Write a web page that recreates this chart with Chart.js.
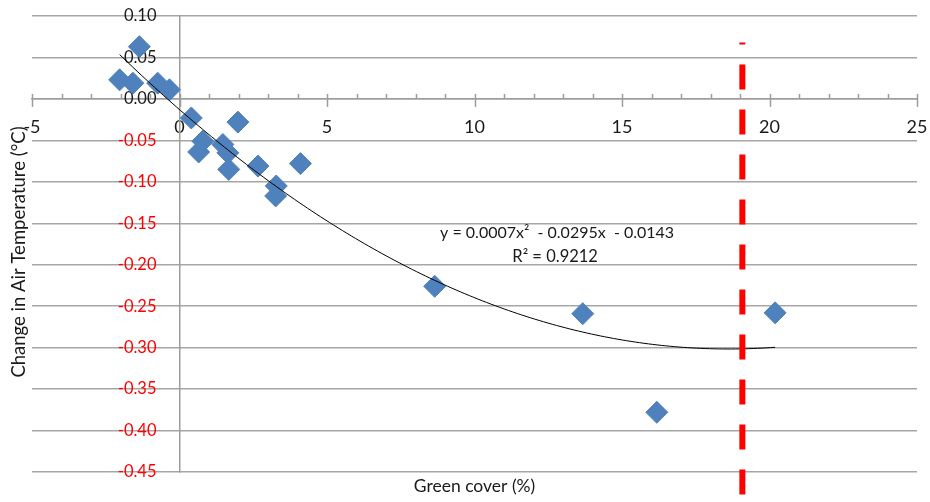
<!DOCTYPE html>
<html>
<head>
<meta charset="utf-8">
<script src="https://cdn.jsdelivr.net/npm/chart.js@4/dist/chart.umd.min.js"></script>
<style>
html,body{margin:0;padding:0;background:#ffffff;}
#wrap{width:930px;height:502px;position:relative;}
</style>
</head>
<body>
<div id="wrap"><canvas id="c" width="930" height="502"></canvas></div>
<script>
// ---- data ----
const greenCover = [-2.03, -1.58, -1.36, -0.74, -0.34, 0.40, 1.98, 0.65, 0.79, 1.47, 1.64, 1.67, 2.66, 3.28, 3.26, 4.10, 8.65, 13.67, 16.18, 20.19];
const tempChange = [0.023, 0.019, 0.063, 0.019, 0.011, -0.023, -0.028, -0.064, -0.051, -0.055, -0.065, -0.085, -0.081, -0.105, -0.117, -0.078, -0.226, -0.259, -0.378, -0.258];
const xTickValues = [-5, 0, 5, 10, 15, 20, 25];
const yTickValues = [0.10, 0.05, 0.00, -0.05, -0.10, -0.15, -0.20, -0.25, -0.30, -0.35, -0.40, -0.45];
const thresholdX = [19.08, 19.08];
const thresholdY = [0.068, -0.477];
const equationLines = ['y = 0.0007x\u00B2  - 0.0295x  - 0.0143', 'R\u00B2 = 0.9212'];
const xTitle = 'Green cover (%)';
const yTitle = 'Change in Air Temperature (\u00B0C)';

// ---- quadratic least-squares trendline (as the spreadsheet does) ----
function fitQuadratic(xs, ys) {
  let s = [0,0,0,0,0], t = [0,0,0];
  for (let i = 0; i < xs.length; i++) {
    let p = 1;
    for (let k = 0; k < 5; k++) { s[k] += p; p *= xs[i]; }
    t[0] += ys[i]; t[1] += ys[i]*xs[i]; t[2] += ys[i]*xs[i]*xs[i];
  }
  const A = [[s[0],s[1],s[2],t[0]],[s[1],s[2],s[3],t[1]],[s[2],s[3],s[4],t[2]]];
  for (let c = 0; c < 3; c++) {
    let piv = c;
    for (let r = c+1; r < 3; r++) if (Math.abs(A[r][c]) > Math.abs(A[piv][c])) piv = r;
    [A[c], A[piv]] = [A[piv], A[c]];
    for (let r = 0; r < 3; r++) {
      if (r === c) continue;
      const f = A[r][c] / A[c][c];
      for (let k = c; k < 4; k++) A[r][k] -= f * A[c][k];
    }
  }
  return [A[0][3]/A[0][0], A[1][3]/A[1][1], A[2][3]/A[2][2]]; // c0, c1, c2
}
const coef = fitQuadratic(greenCover, tempChange);
const xMinData = Math.min(...greenCover), xMaxData = Math.max(...greenCover);
const trendPoints = [];
for (let i = 0; i <= 150; i++) {
  const x = xMinData + (xMaxData - xMinData) * i / 150;
  trendPoints.push({x: x, y: coef[0] + coef[1]*x + coef[2]*x*x});
}

const scatterPoints = greenCover.map((x, i) => ({x: x, y: tempChange[i]}));
const thresholdPoints = thresholdX.map((x, i) => ({x: x, y: thresholdY[i]}));

const FONT = 'Lato, "Open Sans", "Liberation Sans", sans-serif';
const AXIS_GREY = '#9d9d9d';

// linear scale whose tick labels can be pushed sideways (labels stay next to a centred axis)
class ShiftedLinearScale extends Chart.LinearScale {
  _computeLabelItems(chartArea) {
    const items = super._computeLabelItems(chartArea);
    const shift = -23;
    items.forEach(it => {
      const tr = it.options.translation;
      it.options.translation = [tr[0] + shift, tr[1]];
    });
    return items;
  }
}
ShiftedLinearScale.id = 'shiftedLinear';
ShiftedLinearScale.defaults = Chart.LinearScale.defaults;
Chart.register(ShiftedLinearScale);

function zeroFit(s) {
  if (s.isHorizontal()) s.height = 0; else s.width = 0;
  s.paddingLeft = 0; s.paddingRight = 0; s.paddingTop = 0; s.paddingBottom = 0;
}

const extras = {
  id: 'extras',
  beforeDatasetsDraw(chart) {
    const ctx = chart.ctx, xs = chart.scales.x, ys = chart.scales.y;
    const y0 = ys.getPixelForValue(0);
    ctx.save();
    ctx.strokeStyle = AXIS_GREY;
    ctx.lineWidth = 1.5;
    for (let v = xs.min; v <= xs.max; v += 1) {
      const px = Math.round(xs.getPixelForValue(v)) + 0.5;
      const major = (v % 5 === 0);
      ctx.beginPath();
      ctx.moveTo(px, y0 - 5);
      ctx.lineTo(px, major ? y0 + 8 : y0);
      ctx.stroke();
    }
    ctx.restore();
  },
  afterDraw(chart) {
    const ctx = chart.ctx, area = chart.chartArea, xs = chart.scales.x, ys = chart.scales.y;
    ctx.save();
    ctx.fillStyle = '#1a1a1a';
    ctx.textAlign = 'center';
    ctx.textBaseline = 'middle';
    // x title
    ctx.font = '17.5px ' + FONT;
    ctx.fillText(xTitle, (area.left + area.right) / 2, 486);
    // y title
    ctx.save();
    ctx.font = '18.5px ' + FONT;
    ctx.translate(19, 252);
    ctx.rotate(-Math.PI / 2);
    ctx.fillText(yTitle, 0, 0);
    ctx.restore();
    // equation
    ctx.font = '16px ' + FONT;
    const ex = xs.getPixelForValue(12.8);
    ctx.fillText(equationLines[0], ex, ys.getPixelForValue(-0.1612));
    ctx.font = '16.5px ' + FONT;
    ctx.fillText(equationLines[1], ex - 2, ys.getPixelForValue(-0.1902));
    ctx.restore();
  }
};

new Chart(document.getElementById('c'), {
  type: 'scatter',
  data: {
    datasets: [
      {
        label: 'threshold', type: 'line', data: thresholdPoints,
        borderColor: '#ff0000', borderWidth: 6, borderDash: [25, 20], borderDashOffset: 23,
        borderCapStyle: 'butt', pointRadius: 0, clip: false, fill: false, tension: 0
      },
      {
        label: 'trend', type: 'line', data: trendPoints,
        borderColor: '#000000', borderWidth: 1, pointRadius: 0, fill: false, tension: 0
      },
      {
        label: 'data', data: scatterPoints,
        pointStyle: 'rectRot', pointRadius: 11, pointHoverRadius: 11,
        backgroundColor: '#4F81BD', borderColor: '#4F81BD', borderWidth: 1
      }
    ]
  },
  options: {
    responsive: false,
    animation: false,
    devicePixelRatio: 1,
    layout: { padding: { left: 32, top: 16, right: 13, bottom: 30 } },
    plugins: { legend: { display: false }, tooltip: { enabled: false }, title: { display: false } },
    events: [],
    scales: {
      x: {
        type: 'linear', min: -5, max: 25,
        position: { y: 0 },
        afterFit: zeroFit,
        afterBuildTicks: (s) => { s.ticks = xTickValues.map(v => ({ value: v })); },
        grid: { display: false, drawTicks: false },
        border: { display: true, color: AXIS_GREY, width: 1.5 },
        ticks: {
          autoSkip: false, maxRotation: 0, minRotation: 0, padding: 17,
          font: { family: FONT, size: 18 }, color: '#1a1a1a',
          callback: (v) => String(v)
        }
      },
      y: {
        type: 'shiftedLinear', min: -0.45, max: 0.10,
        position: { x: 0 },
        afterFit: zeroFit,
        afterBuildTicks: (s) => { s.ticks = yTickValues.map(v => ({ value: v })); },
        grid: { color: '#a6a6a6', lineWidth: 1.5, drawTicks: false },
        border: { display: true, color: AXIS_GREY, width: 1.5 },
        ticks: {
          padding: 0,
          font: { family: FONT, size: 16.5 },
          color: (c) => (c.tick && c.tick.value < -1e-9) ? '#ff0000' : '#1a1a1a',
          callback: (v) => Number(v).toFixed(2)
        }
      }
    }
  },
  plugins: [extras]
});
</script>
</body>
</html>
